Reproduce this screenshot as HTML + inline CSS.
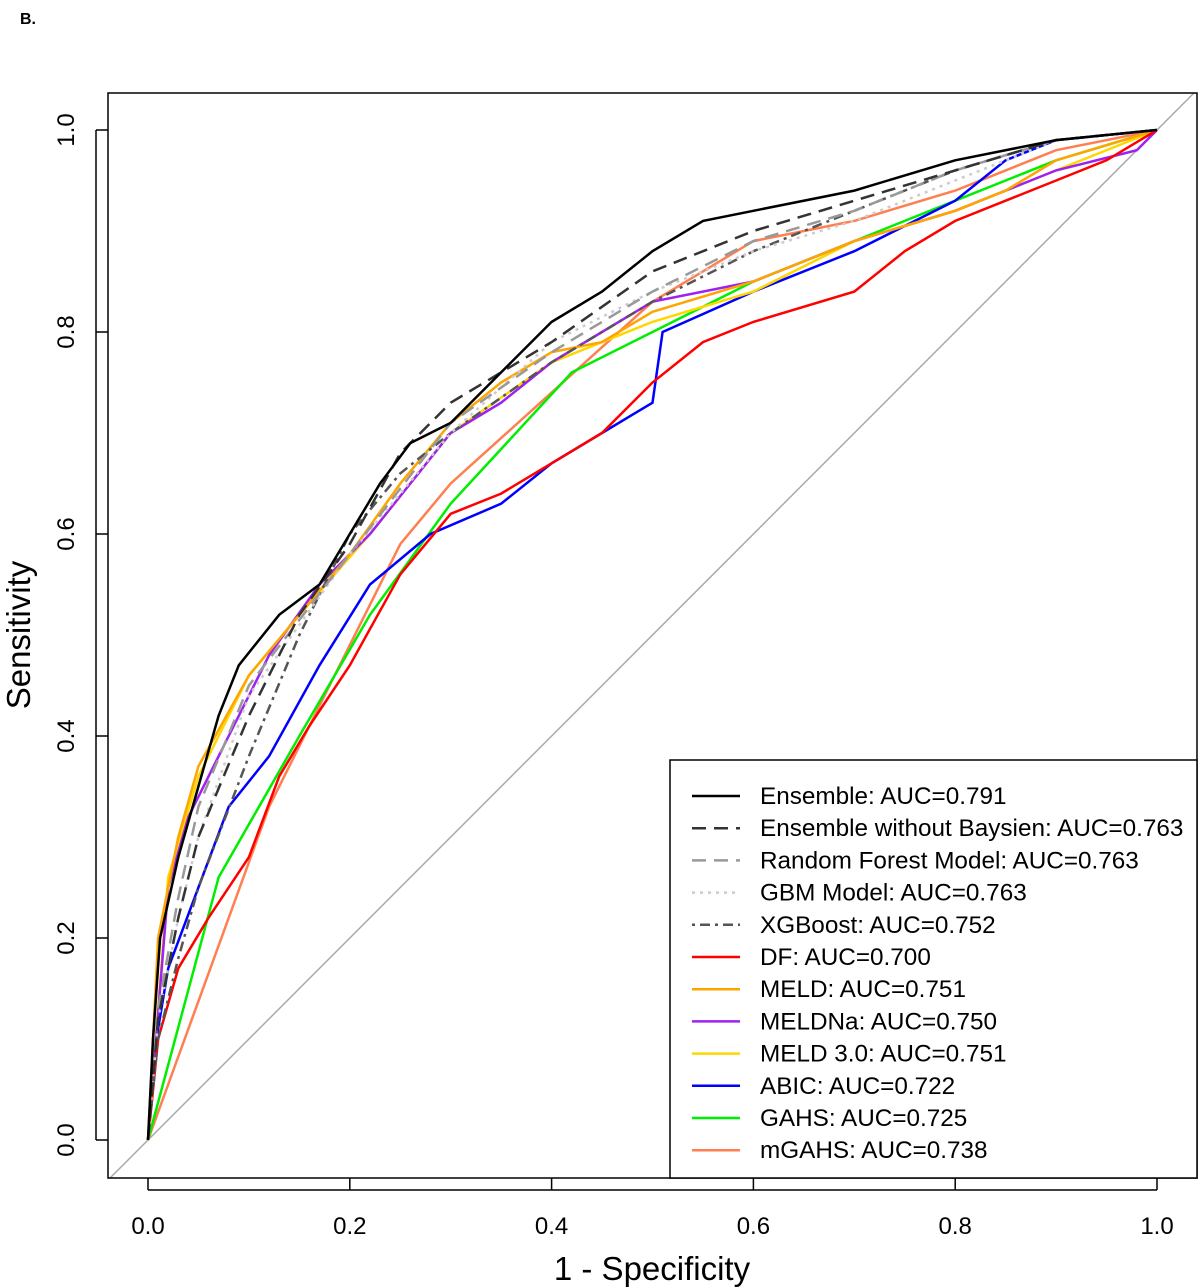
<!DOCTYPE html>
<html><head><meta charset="utf-8"><style>
body{margin:0;background:#fff;}
svg{display:block;font-family:"Liberation Sans",sans-serif;}
</style></head><body>
<svg id="chart" width="1200" height="1288" viewBox="0 0 1200 1288">
<text x="20" y="24" font-size="16" font-weight="bold">B.</text>
</svg>
<script>
const xTicks=[0,0.2,0.4,0.6,0.8,1.0];
const yTicks=[0,0.2,0.4,0.6,0.8,1.0];
const tickLabels=["0.0","0.2","0.4","0.6","0.8","1.0"];
const names=["Ensemble: AUC=0.791","Ensemble without Baysien: AUC=0.763","Random Forest Model: AUC=0.763","GBM Model: AUC=0.763","XGBoost: AUC=0.752","DF: AUC=0.700","MELD: AUC=0.751","MELDNa: AUC=0.750","MELD 3.0: AUC=0.751","ABIC: AUC=0.722","GAHS: AUC=0.725","mGAHS: AUC=0.738"];
const ensFpr=[0,0.005,0.012,0.03,0.05,0.07,0.09,0.13,0.17,0.2,0.23,0.26,0.3,0.35,0.4,0.45,0.5,0.55,0.6,0.7,0.8,0.9,1];
const ensTpr=[0,0.1,0.2,0.28,0.35,0.42,0.47,0.52,0.55,0.6,0.65,0.69,0.71,0.76,0.81,0.84,0.88,0.91,0.92,0.94,0.97,0.99,1];
const ewbFpr=[0,0.01,0.03,0.05,0.1,0.15,0.2,0.25,0.3,0.4,0.5,0.6,0.7,0.8,0.9,1];
const ewbTpr=[0,0.12,0.22,0.3,0.42,0.52,0.59,0.68,0.73,0.79,0.86,0.9,0.93,0.96,0.99,1];
const rfFpr=[0,0.01,0.03,0.05,0.1,0.2,0.3,0.4,0.5,0.6,0.7,0.8,0.9,1];
const rfTpr=[0,0.13,0.24,0.33,0.45,0.58,0.71,0.78,0.84,0.89,0.92,0.96,0.99,1];
const gbmFpr=[0,0.01,0.03,0.05,0.1,0.2,0.3,0.4,0.5,0.6,0.7,0.8,0.9,1];
const gbmTpr=[0,0.12,0.22,0.3,0.44,0.58,0.7,0.79,0.84,0.88,0.91,0.95,0.99,1];
const xgbFpr=[0,0.01,0.03,0.05,0.1,0.15,0.2,0.25,0.3,0.4,0.5,0.6,0.7,0.8,0.9,1];
const xgbTpr=[0,0.1,0.18,0.25,0.38,0.5,0.6,0.66,0.7,0.77,0.83,0.88,0.92,0.96,0.99,1];
const dfFpr=[0,0.01,0.03,0.06,0.1,0.13,0.16,0.2,0.25,0.3,0.35,0.4,0.45,0.5,0.55,0.6,0.7,0.75,0.8,0.9,0.95,1];
const dfTpr=[0,0.1,0.17,0.22,0.28,0.36,0.41,0.47,0.56,0.62,0.64,0.67,0.7,0.75,0.79,0.81,0.84,0.88,0.91,0.95,0.97,1];
const meldFpr=[0,0.01,0.03,0.05,0.1,0.15,0.2,0.25,0.3,0.35,0.4,0.45,0.5,0.6,0.7,0.8,0.85,0.9,1];
const meldTpr=[0,0.2,0.3,0.37,0.46,0.52,0.58,0.65,0.71,0.75,0.78,0.79,0.82,0.85,0.89,0.92,0.94,0.97,1];
const meldnaFpr=[0,0.02,0.04,0.08,0.12,0.17,0.22,0.3,0.35,0.4,0.45,0.5,0.6,0.7,0.8,0.9,0.98,1];
const meldnaTpr=[0,0.25,0.32,0.4,0.48,0.55,0.6,0.7,0.73,0.77,0.8,0.83,0.85,0.89,0.92,0.96,0.98,1];
const meld3Fpr=[0,0.02,0.05,0.1,0.15,0.22,0.3,0.4,0.5,0.6,0.7,0.8,0.9,1];
const meld3Tpr=[0,0.26,0.36,0.46,0.52,0.6,0.7,0.77,0.81,0.84,0.89,0.92,0.96,1];
const abicFpr=[0,0.005,0.02,0.05,0.08,0.12,0.17,0.22,0.28,0.35,0.4,0.45,0.5,0.51,0.6,0.7,0.8,0.85,0.9,1];
const abicTpr=[0,0.08,0.17,0.25,0.33,0.38,0.47,0.55,0.6,0.63,0.67,0.7,0.73,0.8,0.84,0.88,0.93,0.97,0.99,1];
const gahsFpr=[0,0.07,0.15,0.22,0.3,0.42,0.5,0.6,0.7,0.8,0.9,1];
const gahsTpr=[0,0.26,0.4,0.52,0.63,0.76,0.8,0.85,0.89,0.93,0.97,1];
const mgahsFpr=[0,0.12,0.18,0.25,0.3,0.4,0.5,0.6,0.7,0.8,0.9,1];
const mgahsTpr=[0,0.33,0.45,0.59,0.65,0.74,0.83,0.89,0.91,0.94,0.98,1];

const series=[
 {f:ensFpr,t:ensTpr,c:"#000",d:"",n:"ensemble"},
 {f:ewbFpr,t:ewbTpr,c:"#333",d:"14,8",n:"ensemble-without-baysien"},
 {f:rfFpr,t:rfTpr,c:"#999",d:"14,8",n:"random-forest"},
 {f:gbmFpr,t:gbmTpr,c:"#ccc",d:"3,5",n:"gbm"},
 {f:xgbFpr,t:xgbTpr,c:"#555",d:"3,5,10,5",n:"xgboost"},
 {f:dfFpr,t:dfTpr,c:"#ff0000",d:"",n:"df"},
 {f:meldFpr,t:meldTpr,c:"#ffa500",d:"",n:"meld"},
 {f:meldnaFpr,t:meldnaTpr,c:"#a020f0",d:"",n:"meldna"},
 {f:meld3Fpr,t:meld3Tpr,c:"#ffd700",d:"",n:"meld-3"},
 {f:abicFpr,t:abicTpr,c:"#0000ff",d:"",n:"abic"},
 {f:gahsFpr,t:gahsTpr,c:"#00ee00",d:"",n:"gahs"},
 {f:mgahsFpr,t:mgahsTpr,c:"#ff7f50",d:"",n:"mgahs"}
];
const NS="http://www.w3.org/2000/svg";
const svg=document.getElementById("chart");
const X=v=>148+v*1009, Y=v=>1140-v*1010;
function mk(tag,attrs,parent){const e=document.createElementNS(NS,tag);for(const k in attrs)e.setAttribute(k,attrs[k]);(parent||svg).appendChild(e);return e;}
const defs=mk("defs",{});const cp=mk("clipPath",{id:"clip"},defs);mk("rect",{x:108,y:93,width:1089,height:1085},cp);
const diag=mk("line",{x1:X(-0.05),y1:Y(-0.05),x2:X(1.05),y2:Y(1.05),stroke:"#aaa","stroke-width":1.5,"clip-path":"url(#clip)"});


for(let i=series.length-1;i>=0;i--){const s=series[i];
 const pts=s.f.map((v,j)=>X(v).toFixed(1)+","+Y(s.t[j]).toFixed(1)).join(" ");
 const p=mk("polyline",{points:pts,fill:"none",stroke:s.c,"stroke-width":2.5,"stroke-dasharray":s.d,"clip-path":"url(#clip)"});
 
 
}
const box=mk("rect",{x:108,y:93,width:1089,height:1085,fill:"none",stroke:"#000","stroke-width":1.5});


xTicks.forEach((v,i)=>{mk("line",{x1:X(v),x2:X(v),y1:1178,y2:1190,stroke:"#000","stroke-width":1.5});
 const t=mk("text",{x:X(v),y:1234,"font-size":24,"text-anchor":"middle"});t.textContent=tickLabels[i];
 
 });
mk("line",{x1:X(0),x2:X(1),y1:1190,y2:1190,stroke:"#000","stroke-width":1.5});
yTicks.forEach((v,i)=>{mk("line",{x1:96,x2:108,y1:Y(v),y2:Y(v),stroke:"#000","stroke-width":1.5});
 const t=mk("text",{x:74,y:Y(v),"font-size":24,"text-anchor":"middle",transform:`rotate(-90 74 ${Y(v)})`});t.textContent=tickLabels[i];
 
 });
mk("line",{x1:96,x2:96,y1:Y(0),y2:Y(1),stroke:"#000","stroke-width":1.5});
const xt=mk("text",{x:652,y:1280,"font-size":33,"text-anchor":"middle"});xt.textContent="1 - Specificity";


const yt=mk("text",{x:30,y:635,"font-size":33,"text-anchor":"middle",transform:"rotate(-90 30 635)"});yt.textContent="Sensitivity";


const lg=mk("g",{});


mk("rect",{x:670,y:760,width:527,height:418,fill:"#fff",stroke:"#000","stroke-width":1.5},lg);
series.forEach((s,i)=>{const y=796+i*32.2;
 const g=mk("g",{},lg);
 
 
 mk("line",{x1:692,x2:740,y1:y,y2:y,stroke:s.c,"stroke-width":2.5,"stroke-dasharray":s.d},g);
 const t=mk("text",{x:760,y:y+8,"font-size":24.3},g);t.textContent=names[i];});
</script>
</body></html>
